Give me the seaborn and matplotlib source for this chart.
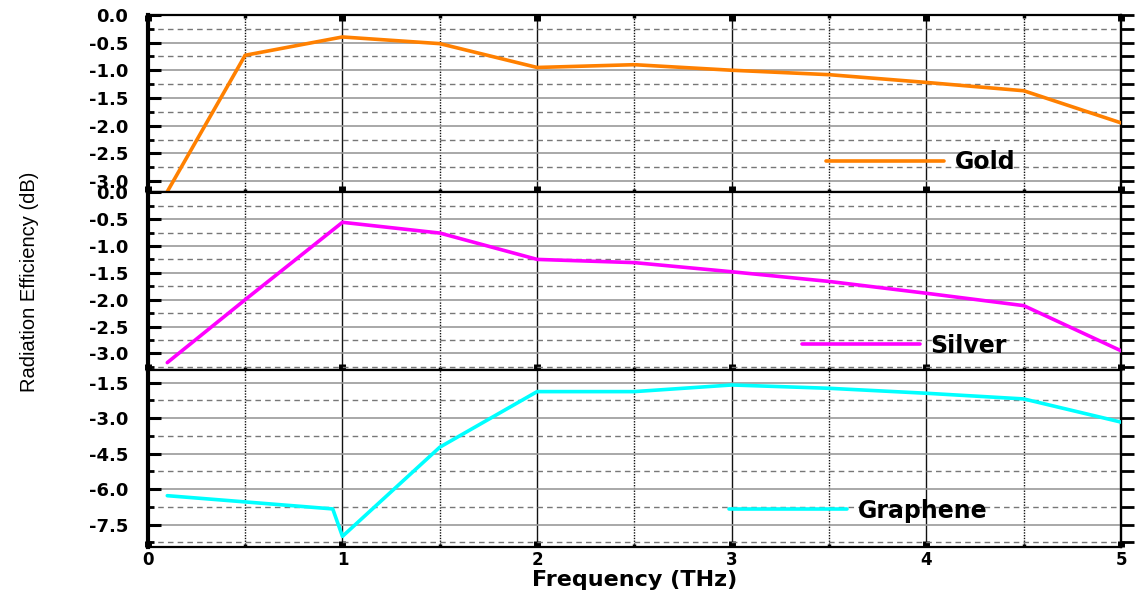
import matplotlib
matplotlib.use('Agg')
import matplotlib.pyplot as plt
import seaborn as sns
import pandas as pd
from matplotlib.ticker import MultipleLocator, FormatStrFormatter

# values
freq = [0.1, 0.5, 1.0, 1.5, 2.0, 2.5, 3.0, 3.5, 4.0, 4.5, 5.0]
eff_gold = [-3.19, -0.73, -0.40, -0.52, -0.95, -0.90, -1.00, -1.08, -1.22, -1.37, -1.95]
eff_silver = [-3.17, -2.00, -0.56, -0.76, -1.25, -1.31, -1.48, -1.66, -1.88, -2.11, -2.95]
freq_graphene = [0.1, 0.95, 1.0, 1.5, 2.0, 2.5, 3.0, 3.5, 4.0, 4.5, 5.0]
eff_graphene = [-6.28, -6.84, -8.0, -4.23, -1.88, -1.88, -1.60, -1.74, -1.95, -2.19, -3.17]

panels = [
    ('Gold', freq, eff_gold, '#ff8000', (-3.2, 0.0), 0.5),
    ('Silver', freq, eff_silver, '#ff00ff', (-3.3, 0.0), 0.5),
    ('Graphene', freq_graphene, eff_graphene, '#00ffff', (-8.45, -0.95), 1.5),
]
# legend handle start (axes fraction) and vertical position for each panel
legend_pos = [(0.697, 0.17), (0.672, 0.135), (0.597, 0.205)]

sns.set_theme(style='white')
plt.rcParams['font.family'] = ['DejaVu Sans']
plt.rcParams['axes.unicode_minus'] = True
plt.rcParams['text.color'] = 'black'
plt.rcParams['axes.labelcolor'] = 'black'
plt.rcParams['xtick.color'] = 'black'
plt.rcParams['ytick.color'] = 'black'

fig, axes = plt.subplots(3, 1, figsize=(11.37, 5.92), dpi=100, sharex=True,
                         gridspec_kw={'hspace': 0})
fig.subplots_adjust(left=0.130, right=0.986, top=0.975, bottom=0.076)

for i, (ax, (name, x, y, color, ylim, step)) in enumerate(zip(axes, panels)):
    df = pd.DataFrame({'Frequency': x, 'Efficiency': y})
    sns.lineplot(data=df, x='Frequency', y='Efficiency', color=color, lw=2.6,
                 label=name, ax=ax, zorder=5)
    ax.set_xlim(0, 5)
    ax.set_ylim(*ylim)
    ax.xaxis.set_major_locator(MultipleLocator(1))
    ax.xaxis.set_minor_locator(MultipleLocator(0.5))
    ax.yaxis.set_major_locator(MultipleLocator(step))
    ax.yaxis.set_minor_locator(MultipleLocator(step / 2))
    ax.yaxis.set_major_formatter(FormatStrFormatter('%.1f'))

    ax.grid(which='major', axis='x', color='#111111', lw=1.0, ls='-')
    ax.grid(which='minor', axis='x', color='#111111', lw=1.0, ls=(0, (1, 1)))
    ax.grid(which='major', axis='y', color='#999999', lw=1.2, ls='-')
    ax.grid(which='minor', axis='y', color='#777777', lw=1.0, ls=(0, (4, 3)))
    ax.set_axisbelow(True)

    for side in ['top', 'bottom', 'right']:
        ax.spines[side].set_visible(True)
        ax.spines[side].set_color('black')
        ax.spines[side].set_linewidth(1.6)
    ax.spines['left'].set_color('black')
    ax.spines['left'].set_linewidth(3.0)

    ax.tick_params(axis='y', which='major', direction='in', length=9, width=2.2,
                   color='black', left=True, right=False, pad=14,
                   labelsize=13, labelcolor='black')
    ax.tick_params(axis='y', which='minor', direction='in', length=4.5, width=2.0,
                   color='black', left=True, right=False)
    ax.tick_params(axis='x', which='major', direction='in', length=4, width=5,
                   color='black', bottom=True, top=(i == 0), labelbottom=(i == 2),
                   labelsize=12, pad=3, labelcolor='black')
    ax.tick_params(axis='x', which='minor', direction='in', length=2.5, width=2.5,
                   color='black', bottom=True, top=(i == 0))
    for lab in ax.get_yticklabels() + ax.get_xticklabels():
        lab.set_fontweight('bold')

    # right side ticks point outward
    sec = ax.secondary_yaxis('right')
    sec.yaxis.set_major_locator(MultipleLocator(step))
    sec.yaxis.set_minor_locator(MultipleLocator(step / 2))
    sec.tick_params(which='both', direction='out', length=9, width=2.0,
                    labelright=False, color='black')
    sec.spines['right'].set_linewidth(1.6)

    lx, ly = legend_pos[i]
    leg = ax.legend(loc='center left', bbox_to_anchor=(lx, ly), frameon=False,
                    handlelength=5.0, handletextpad=0.45, borderpad=0, borderaxespad=0,
                    prop={'weight': 'bold', 'size': 17})
    for t in leg.get_texts():
        t.set_color('black')
    ax.set_xlabel('')
    ax.set_ylabel('')

fig.text(0.558, 0.003, 'Frequency (THz)', ha='center', va='bottom',
         fontsize=16, fontweight='bold', color='black')
fig.text(0.026, 0.524, 'Radiation Efficiency (dB)', rotation=90, ha='center',
         va='center', fontsize=14.5, color='black',
         family=['Liberation Sans', 'DejaVu Sans'])

fig.savefig('out.png', dpi=100)
